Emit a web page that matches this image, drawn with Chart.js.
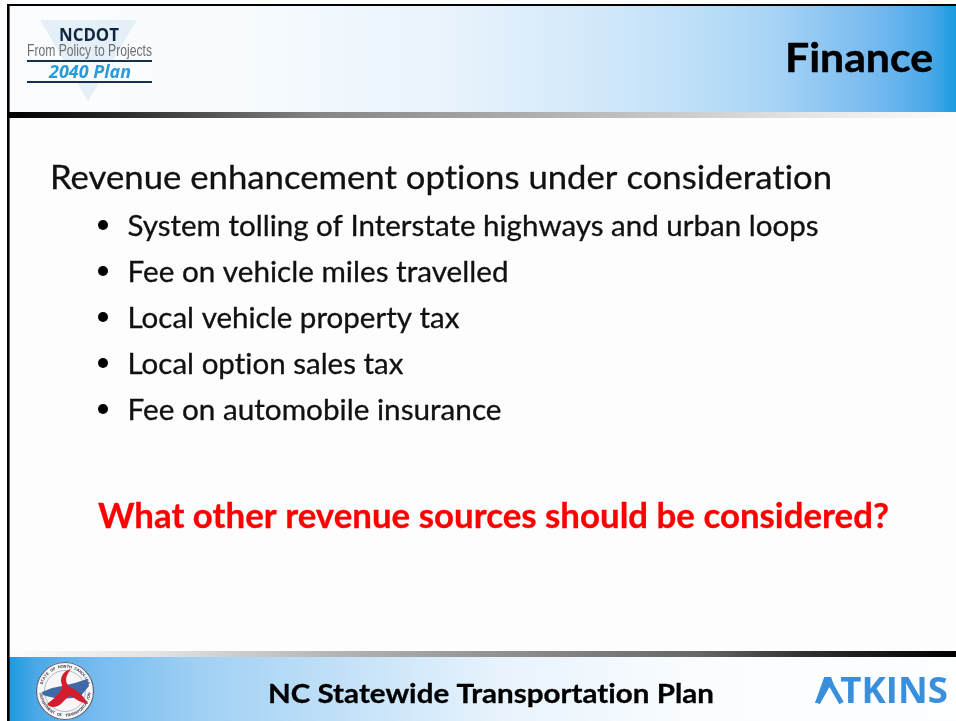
<!DOCTYPE html>
<html><head><meta charset="utf-8">
<style>html,body{margin:0;padding:0;background:#fff}canvas{display:block}</style>
<script src="https://cdn.jsdelivr.net/npm/chart.js@4/dist/chart.umd.min.js"></script>
</head><body><canvas id="c" width="956" height="721"></canvas>
<script>
const pageTitle = "Finance";
const heading = "Revenue enhancement options under consideration";
const bullets = ["System tolling of Interstate highways and urban loops","Fee on vehicle miles travelled","Local vehicle property tax","Local option sales tax","Fee on automobile insurance"];
const bulletWidths = [691,381,332,276,374];
const question = "What other revenue sources should be considered?";
const footer = "NC Statewide Transportation Plan";
const logoTop = "NCDOT", logoMid = "From Policy to Projects", logoPlan = "2040 Plan", brand = "ATKINS";
const sealTop = "STATE OF NORTH CAROLINA", sealBottom = "DEPARTMENT OF TRANSPORTATION";

function t(ctx,s,x,y,font,color,w,heft,blur){
  ctx.save();ctx.font=font;ctx.fillStyle=color;ctx.strokeStyle=color;ctx.textBaseline='alphabetic';ctx.textAlign='left';
  ctx.letterSpacing='0.01px';ctx.filter='blur('+(blur||0.35)+'px)';
  const m=ctx.measureText(s).width;ctx.translate(x,y);ctx.scale(w/m,1);ctx.fillText(s,0,0);
  if(heft){ctx.lineWidth=heft;ctx.strokeText(s,0,0);}
  ctx.restore();
}
function hgrad(ctx,x0,x1,stops){const g=ctx.createLinearGradient(x0,0,x1,0);stops.forEach(s=>g.addColorStop((s[0]-x0)/(x1-x0),s[1]));return g;}
function poly(c,pts,color){c.fillStyle=color;c.beginPath();pts.forEach((p,i)=>i?c.lineTo(p[0],p[1]):c.moveTo(p[0],p[1]));c.closePath();c.fill();}
function arcText(c,s,cx,cy,r,mid,span,dir){
  c.save();c.font='bold 4px "Liberation Sans"';c.fillStyle='#3a3f55';c.textAlign='center';c.textBaseline='middle';
  const n=s.length;
  for(let i=0;i<n;i++){const a=mid+dir*span*((i+0.5)/n-0.5);
    c.save();c.translate(cx+r*Math.cos(a),cy+r*Math.sin(a));c.rotate(a+dir*Math.PI/2);c.fillText(s[i],0,0);c.restore();}
  c.restore();
}
function seal(c){
  const cx=65,cy=691;
  c.save();c.filter='blur(0.4px)';
  c.fillStyle='#f7f7f7';c.beginPath();c.arc(cx,cy,29,0,7);c.fill();
  c.strokeStyle='#59607a';c.lineWidth=1.2;c.beginPath();c.arc(cx,cy,28.5,0,7);c.stroke();
  c.strokeStyle='#9a9fb0';c.lineWidth=0.7;c.beginPath();c.arc(cx,cy,20.5,0,7);c.stroke();
  arcText(c,sealTop,cx,cy,24.5,-Math.PI/2,2.6,1);
  arcText(c,sealBottom,cx,cy,24.5,Math.PI/2,3.0,-1);
  poly(c,[[42,692],[52,688],[62,686],[75,683],[87,679],[89,686],[84,692],[80,697],[72,698],[60,699],[50,697],[43,695]],'#3f6aa8');
  c.fillStyle='#d31f2d';c.beginPath();
  c.moveTo(71,669);
  c.bezierCurveTo(63,671,59,678,62,685);
  c.bezierCurveTo(63,689,58,696,47,704);
  c.bezierCurveTo(50,708,57,708,62,703);
  c.bezierCurveTo(66,699,68,696,71,696);
  c.bezierCurveTo(75,698,80,703,88,704);
  c.bezierCurveTo(85,698,79,691,72,688);
  c.bezierCurveTo(66,685,63,679,71,669);
  c.closePath();c.fill();
  c.restore();
}
function atkins(c){
  const col='#3a8fdc';
  t(c,brand,815,703,'bold 36px "Open Sans"',col,133);
  c.save();c.filter='blur(0.35px)';
  // the reference's A has no crossbar: repaint the counter, then restore the two legs
  poly(c,[[829.5,685],[840,703.5],[820,703.5]],'#fcfeff');
  c.strokeStyle=col;c.lineWidth=5;c.lineJoin='miter';c.beginPath();c.moveTo(817.5,703);c.lineTo(829.5,682);c.lineTo(841.5,703);c.stroke();
  c.restore();
}
const slide={id:'slide',beforeDraw(chart){
  const c=chart.ctx;c.save();
  c.fillStyle='#fff';c.fillRect(0,0,956,721);
  c.fillStyle='#fdfdfd';c.fillRect(9,6,947,645);
  // header band
  c.fillStyle=hgrad(c,9,956,[[9,'#fbfcfe'],[250,'#f7fbfe'],[450,'#e8f3fc'],[600,'#d2e8fa'],[700,'#bcdff8'],[780,'#a5d2f5'],[880,'#73b8ee'],[930,'#4aa8e8'],[956,'#1b9ae0']]);
  c.fillRect(9,6,947,106);
  c.fillStyle=hgrad(c,9,956,[[9,'#000'],[100,'#222'],[320,'#858585'],[700,'#cfcfcf'],[800,'#e4e4e4'],[956,'#fcfcfc']]);
  c.fillRect(9,112,947,6);
  // footer band
  c.fillStyle=hgrad(c,9,956,[[9,'#1b9ae0'],[35,'#4aa8e8'],[100,'#78bcef'],[200,'#a0d0f4'],[300,'#b8dcf7'],[500,'#e8f3fc'],[700,'#fafdff'],[956,'#fdfeff']]);
  c.fillRect(9,657,947,64);
  c.fillStyle=hgrad(c,9,956,[[9,'#fcfcfc'],[150,'#e4e4e4'],[320,'#b8b8b8'],[700,'#666'],[800,'#333'],[956,'#000']]);
  c.fillRect(9,651,947,6);
  // slide border
  c.fillStyle='#000';c.fillRect(7,4,949,2);c.fillRect(7,4,2.6,717);
  // logo
  poly(c,[[40,20],[137,20],[88,101]],'#e4eff7');
  c.fillStyle='#fbfcfe';c.fillRect(27,62,126,19);
  t(c,logoTop,59,41,'bold 17px "Open Sans"','#10263f',60);
  t(c,logoMid,27,56,'17px "Liberation Sans"','#707070',125);
  c.fillStyle='#17304f';c.fillRect(27,60,125,2);c.fillRect(27,81,125,2);
  t(c,logoPlan,49,78,'italic bold 18px "Open Sans"','#2a9ad8',82);
  // titles
  t(c,pageTitle,785,72,'bold 41px Lato','#000',148,0.5);
  t(c,heading,50,188.5,'32px Lato','#111',782,0.3);
  bullets.forEach((b,i)=>{const y=236+i*46;
    c.save();c.filter='blur(0.3px)';c.fillStyle='#000';c.beginPath();c.arc(103,y-11,5,0,Math.PI*2);c.fill();c.restore();
    t(c,b,127.5,y,'28px Lato','#111',bulletWidths[i],0.3);});
  t(c,question,98,528,'bold 34px Lato','#fe0000',791,0.3);
  t(c,footer,268,703,'bold 27px Lato','#000',446,0.3);
  atkins(c);
  seal(c);
  c.restore();
}};
new Chart(document.getElementById('c'),{type:'scatter',data:{datasets:[{data:[]}]},
 options:{responsive:false,animation:false,events:[],plugins:{legend:{display:false},tooltip:{enabled:false}},
 scales:{x:{display:false},y:{display:false}}},plugins:[slide]});
</script></body></html>
